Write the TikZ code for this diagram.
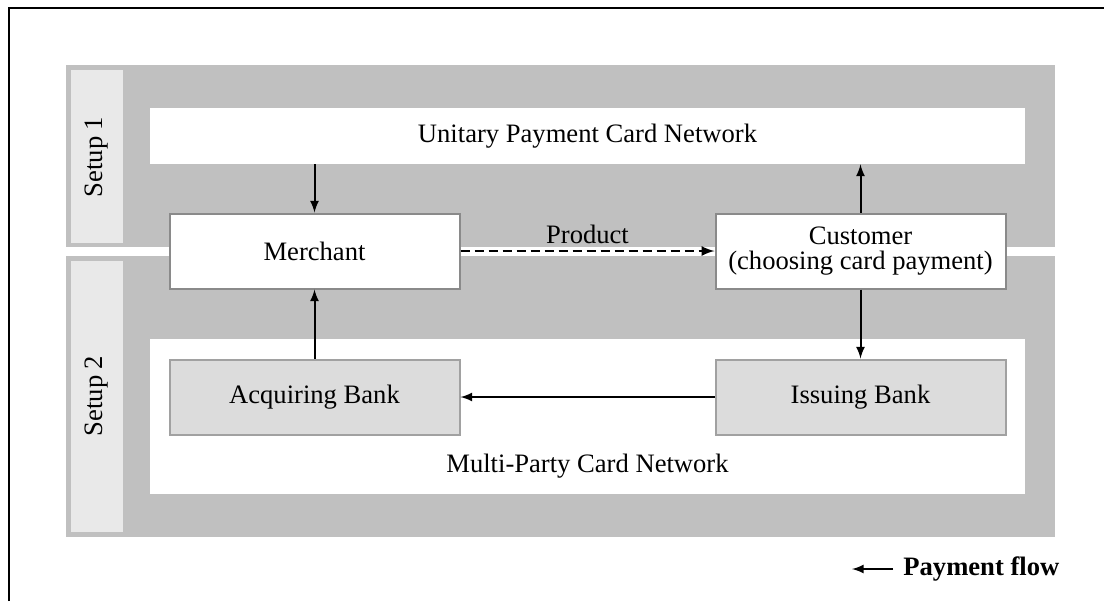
\documentclass[tikz,border=0pt]{standalone}
\usepackage{fontspec}
\setmainfont{Liberation Serif}
\usetikzlibrary{
    calc,
    positioning
}
\definecolor{panelgray}{HTML}{C0C0C0}
\definecolor{stripgray}{HTML}{E9E9E9}
\definecolor{bankgray}{HTML}{DCDCDC}
\definecolor{edgegray}{HTML}{8A8A8A}
\tikzset{
    partybox/.style={draw=edgegray, line width=1pt, fill=white, minimum width=145pt, minimum height=37.5pt, inner sep=0pt, align=center},
    bankbox/.style={partybox, fill=bankgray, draw=edgegray!80},
    flow/.style={->, line width=1pt},
    productline/.style={->, line width=1.2pt, dash pattern=on 4.5pt off 2.5pt}
}

\begin{document}
\begin{tikzpicture}[x=0.5pt, y=-0.5pt, >=latex, font=\fontsize{13.3}{12.5}\selectfont]
                                \useasboundingbox (0,0) rectangle (1104,601);
                                \draw[line width=0.75pt] (9,601) -- (9,8) -- (1104,8);
                                \fill[panelgray] (66,65) rectangle (1055,247);
                                \fill[panelgray] (66,256) rectangle (1055,537);
                                \fill[stripgray] (71,70) rectangle (123,243);
                                \fill[stripgray] (71,261) rectangle (123,532);
                                \fill[white] (150,339) rectangle (1025,494);
                                \node[rotate=90] (setupA) at (97,157) {Setup 1};
                                \node[rotate=90] (setupB) at (97,396) {Setup 2};
                                \node[fill=white, minimum width=437.5pt, minimum height=28pt] (unitary) at (587.5,136) {Unitary Payment Card Network};
                                \node (multi) at (587.5,466) {Multi-Party Card Network};
                                \node[partybox] (merchant) at (314.5,251) {Merchant};
                                \node[partybox] (customer) at (860.5,251) {Customer\\(choosing card payment)};
                                \node[bankbox] (acquirer) at (314.5,397) {Acquiring Bank};
                                \node[bankbox] (issuer) at (860.5,397) {Issuing Bank};
                                \node[inner sep=0pt, anchor=west, font=\fontsize{13.3}{12.5}\selectfont\bfseries] (legend) at (903,569) {Payment flow};
                                \coordinate (legendtip) at (852,569);
                                \draw
                                (unitary.south -| merchant.north) edge[flow] (merchant.north)
                                (customer.north) edge[flow] (customer.north |- unitary.south)
                                (customer.south) edge[flow] (issuer.north)
                                (issuer.west) edge[flow] (acquirer.east)
                                (acquirer.north) edge[flow] (merchant.south)
                                ([xshift=-5pt]legend.west) edge[flow] (legendtip);
                                \draw[productline] (merchant.east) -- node[above, inner sep=3pt]{Product} (customer.west);
                            \end{tikzpicture}
\end{document}
